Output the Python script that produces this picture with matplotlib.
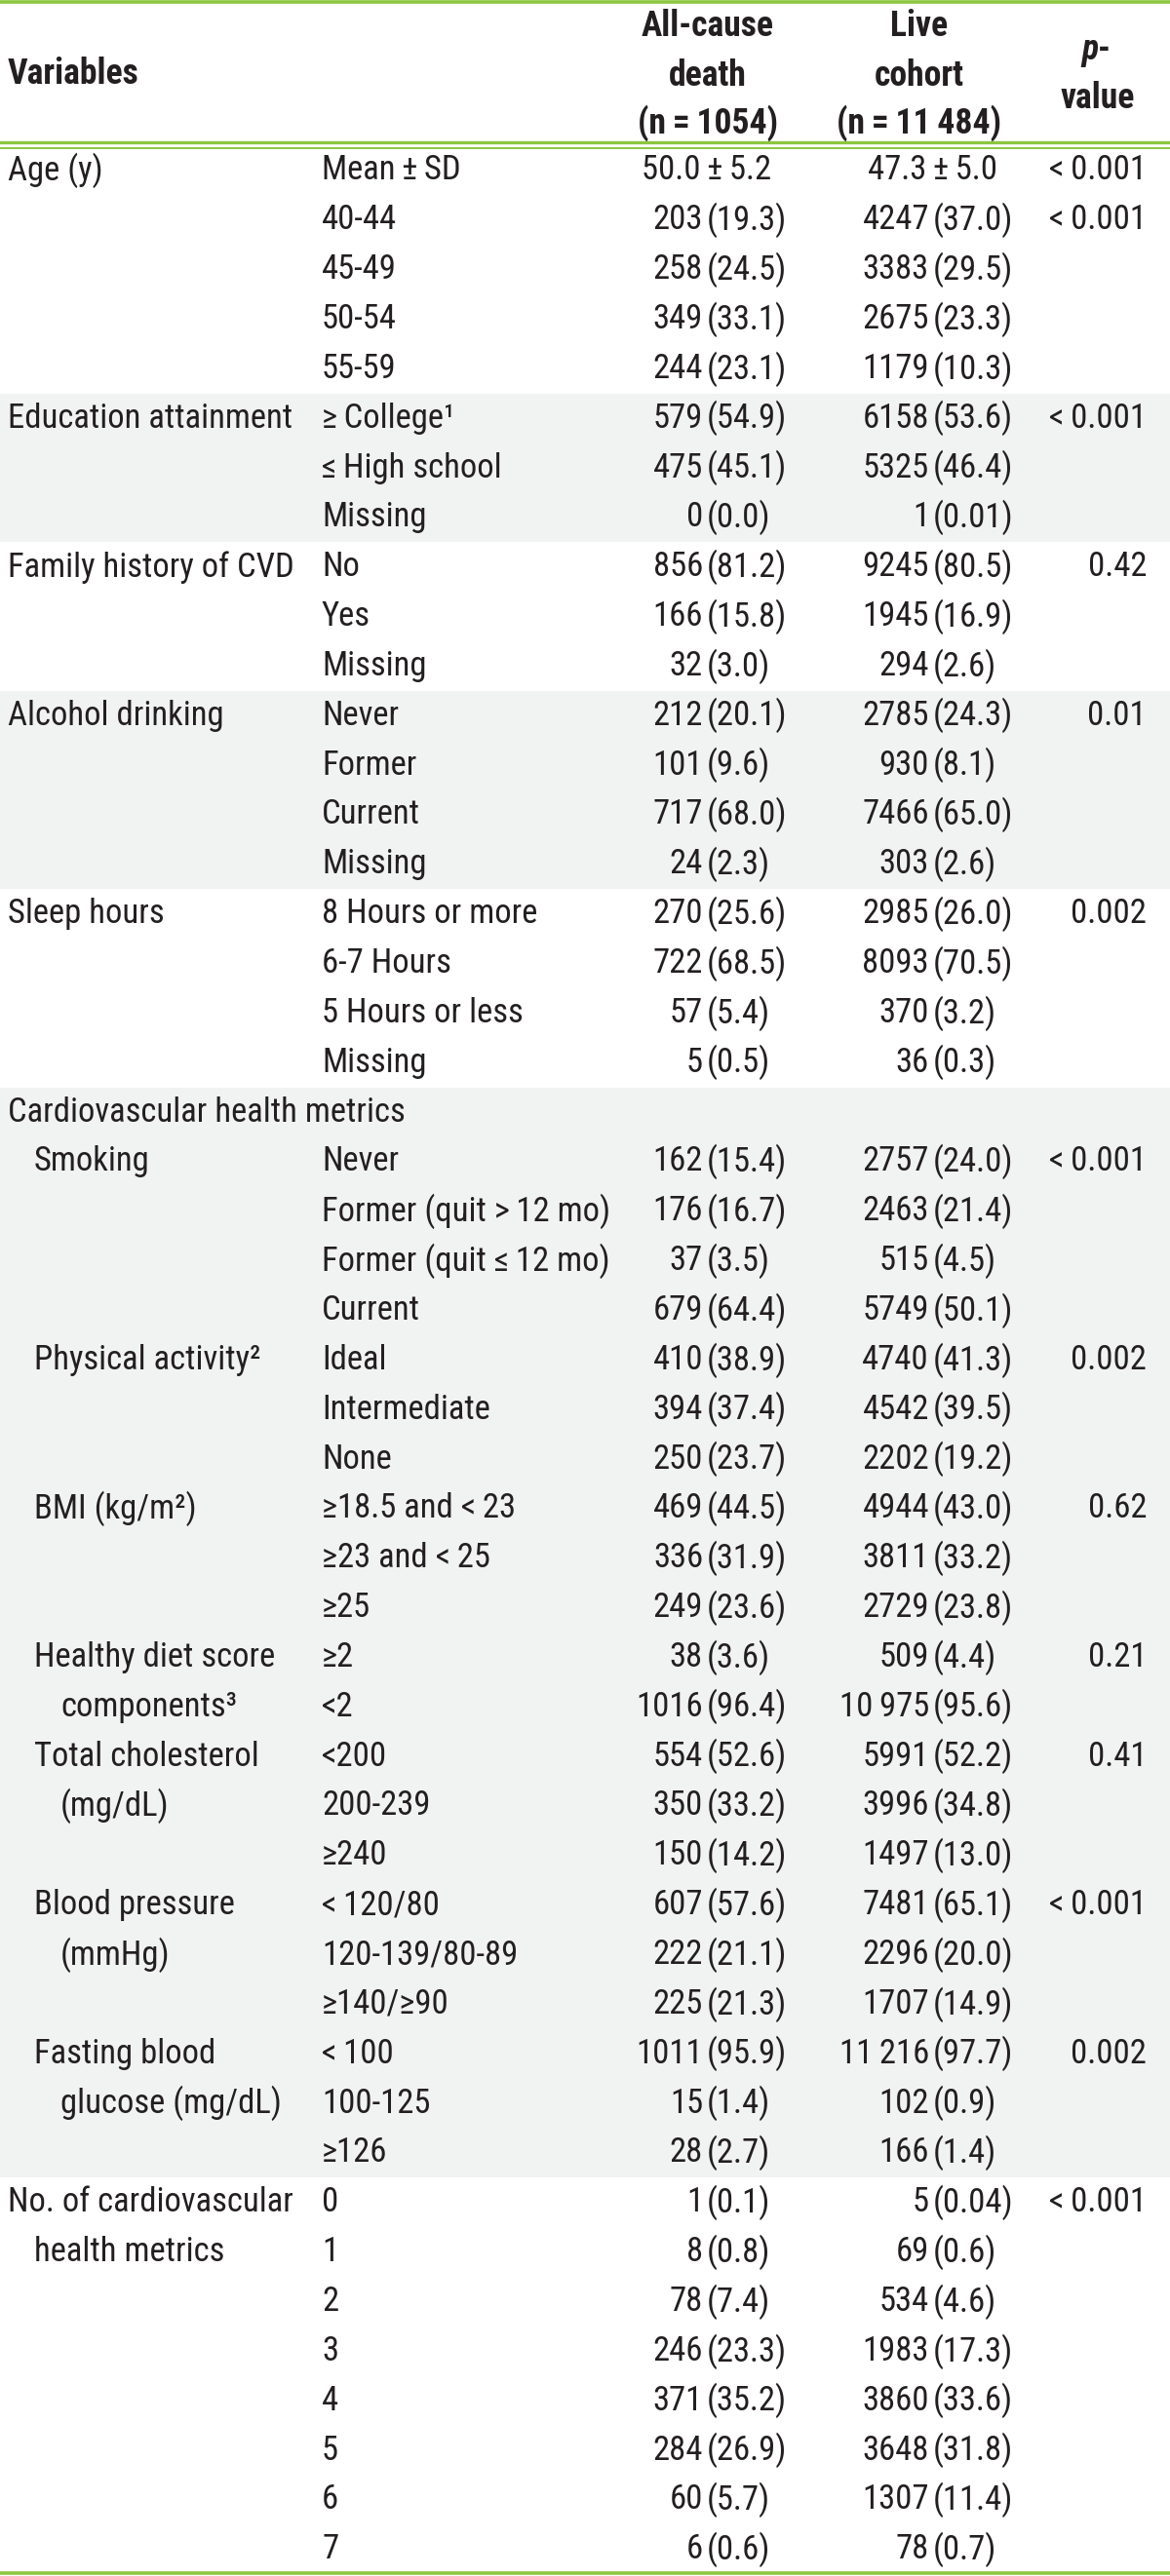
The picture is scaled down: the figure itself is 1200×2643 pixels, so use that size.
import os
import matplotlib.pyplot as plt
from matplotlib import font_manager as fm

T = '\u2009'  # thin space

# ---- table data ----
var_labels = ["Age (y)", "", "", "", "",
              "Education attainment", "", "",
              "Family history of CVD", "", "",
              "Alcohol drinking", "", "", "",
              "Sleep hours", "", "", "",
              "Cardiovascular health metrics",
              "Smoking", "", "", "",
              "Physical activity²", "", "",
              "BMI (kg/m²)", "", "",
              "Healthy diet score", "components³",
              "Total cholesterol", "(mg/dL)", "",
              "Blood pressure", "(mmHg)", "",
              "Fasting blood", "glucose (mg/dL)", "",
              "No. of cardiovascular", "health metrics", "", "", "", "", "", ""]
var_indent = [0] * 20 + [1, 0, 0, 0, 1, 0, 0, 1, 0, 0, 1, 2, 1, 2, 0,
                         1, 2, 0, 1, 2, 0, 0, 1, 0, 0, 0, 0, 0, 0]

categories = ["Mean" + T + "±" + T + "SD", "40-44", "45-49", "50-54", "55-59",
              "≥" + T + "College¹", "≤" + T + "High school", "Missing",
              "No", "Yes", "Missing",
              "Never", "Former", "Current", "Missing",
              "8 Hours or more", "6-7 Hours", "5 Hours or less", "Missing",
              "",
              "Never", "Former (quit >" + T + "12 mo)", "Former (quit ≤" + T + "12 mo)", "Current",
              "Ideal", "Intermediate", "None",
              "≥18.5 and <" + T + "23", "≥23 and <" + T + "25", "≥25",
              "≥2", "<2",
              "<200", "200-239", "≥240",
              "<" + T + "120/80", "120-139/80-89", "≥140/≥90",
              "<" + T + "100", "100-125", "≥126",
              "0", "1", "2", "3", "4", "5", "6", "7"]

death = ["50.0" + T + "±" + T + "5.2", "203 (19.3)", "258 (24.5)", "349 (33.1)", "244 (23.1)",
         "579 (54.9)", "475 (45.1)", "0 (0.0)",
         "856 (81.2)", "166 (15.8)", "32 (3.0)",
         "212 (20.1)", "101 (9.6)", "717 (68.0)", "24 (2.3)",
         "270 (25.6)", "722 (68.5)", "57 (5.4)", "5 (0.5)",
         "",
         "162 (15.4)", "176 (16.7)", "37 (3.5)", "679 (64.4)",
         "410 (38.9)", "394 (37.4)", "250 (23.7)",
         "469 (44.5)", "336 (31.9)", "249 (23.6)",
         "38 (3.6)", "1016 (96.4)",
         "554 (52.6)", "350 (33.2)", "150 (14.2)",
         "607 (57.6)", "222 (21.1)", "225 (21.3)",
         "1011 (95.9)", "15 (1.4)", "28 (2.7)",
         "1 (0.1)", "8 (0.8)", "78 (7.4)", "246 (23.3)", "371 (35.2)",
         "284 (26.9)", "60 (5.7)", "6 (0.6)"]

live = ["47.3" + T + "±" + T + "5.0", "4247 (37.0)", "3383 (29.5)", "2675 (23.3)", "1179 (10.3)",
        "6158 (53.6)", "5325 (46.4)", "1 (0.01)",
        "9245 (80.5)", "1945 (16.9)", "294 (2.6)",
        "2785 (24.3)", "930 (8.1)", "7466 (65.0)", "303 (2.6)",
        "2985 (26.0)", "8093 (70.5)", "370 (3.2)", "36 (0.3)",
        "",
        "2757 (24.0)", "2463 (21.4)", "515 (4.5)", "5749 (50.1)",
        "4740 (41.3)", "4542 (39.5)", "2202 (19.2)",
        "4944 (43.0)", "3811 (33.2)", "2729 (23.8)",
        "509 (4.4)", "10" + T + "975 (95.6)",
        "5991 (52.2)", "3996 (34.8)", "1497 (13.0)",
        "7481 (65.1)", "2296 (20.0)", "1707 (14.9)",
        "11" + T + "216 (97.7)", "102 (0.9)", "166 (1.4)",
        "5 (0.04)", "69 (0.6)", "534 (4.6)", "1983 (17.3)", "3860 (33.6)",
        "3648 (31.8)", "1307 (11.4)", "78 (0.7)"]

p_values = ["<" + T + "0.001", "<" + T + "0.001", "", "", "",
            "<" + T + "0.001", "", "",
            "0.42", "", "",
            "0.01", "", "", "",
            "0.002", "", "", "",
            "",
            "<" + T + "0.001", "", "", "",
            "0.002", "", "",
            "0.62", "", "",
            "0.21", "",
            "0.41", "", "",
            "<" + T + "0.001", "", "",
            "0.002", "", "",
            "<" + T + "0.001", "", "", "", "", "", "", ""]

shaded = [(5, 8), (11, 15), (19, 41)]   # row ranges with grey background


# ---- pick a narrow font if one is installed ----
def find_narrow():
    prefs = ['roboto', 'liberation', 'noto', 'dejavu', 'open', 'lato']
    found = []
    for f in fm.fontManager.ttflist:
        base = os.path.basename(f.fname).lower()
        if ('condensed' in base or 'narrow' in base) and 'semi' not in base \
                and f.style == 'normal' and f.weight in (400, 'normal', 'regular', 'book'):
            rank = next((k for k, p in enumerate(prefs) if p in base), len(prefs))
            found.append((rank, f))
    if not found:
        return None
    found.sort(key=lambda t: t[0])
    return found[0][1]

nf = find_narrow()
if nf is not None:
    FAM = [nf.name, 'DejaVu Sans']
    STRETCH = nf.stretch
else:
    FAM = ['Roboto', 'DejaVu Sans']
    STRETCH = 'normal'
plt.rcParams['font.family'] = FAM
plt.rcParams['font.stretch'] = STRETCH

# ---- layout ----
W, H = 1200, 2643
GREEN = '#8cc63f'
SHADE = '#f1f2f2'
TXT = '#231f20'

fig = plt.figure(figsize=(W / 100, H / 100), dpi=100)
ax = fig.add_axes([0, 0, 1, 1])
ax.set_xlim(0, W)
ax.set_ylim(H, 0)
ax.axis('off')

# size the font so a reference label has about the width it has in the original
r = fig.canvas.get_renderer()
probe = ax.text(0, 0, "Education attainment", fontsize=25)
w = probe.get_window_extent(r).width
probe.remove()
FS = min(29.0, 25 * 292.0 / w)

row_top = 149.5
row_h = 50.85
x_ind = [8, 35, 62]
x_cat = 330
x_death = 725
x_live = 957
x_p = 1176

def yc(i):
    return row_top + (i + 0.5) * row_h

for s, e in shaded:
    ax.axhspan(row_top + s * row_h, row_top + e * row_h, color=SHADE, lw=0, zorder=0)

ax.axhline(2, color=GREEN, lw=2.6)
ax.axhline(146, color=GREEN, lw=2.4)
ax.axhline(152, color=GREEN, lw=1.4)
ax.axhline(H - 3, color=GREEN, lw=2.6)

# header
hd = dict(fontsize=FS * 1.03, fontweight='bold', color=TXT, va='center')
ax.text(x_ind[0], 76, "Variables", ha='left', **hd)
for y, s in zip([27, 78, 126], ["All-cause", "death", "(n" + T + "=" + T + "1054)"]):
    ax.text(726, y, s, ha='center', **hd)
for y, s in zip([27, 78, 126], ["Live", "cohort", "(n" + T + "=" + T + "11" + T + "484)"]):
    ax.text(943, y, s, ha='center', **hd)
ax.text(1126, 51, "p", ha='right', style='italic', **hd)
ax.text(1126, 51, "-", ha='left', **hd)
ax.text(1126, 101, "value", ha='center', **hd)

# body
bd = dict(fontsize=FS, color=TXT, va='center')

def put_value(x, y, s):
    if '(' in s:
        num, pct = s.split(' (')
        ax.text(x - 4, y, num, ha='right', **bd)
        ax.text(x, y, '(' + pct, ha='left', **bd)
    elif s:
        ax.text(x, y, s, ha='center', **bd)

for i in range(len(categories)):
    y = yc(i)
    if var_labels[i]:
        ax.text(x_ind[var_indent[i]], y, var_labels[i], ha='left', **bd)
    if categories[i]:
        ax.text(x_cat, y, categories[i], ha='left', **bd)
    put_value(x_death, y, death[i])
    put_value(x_live, y, live[i])
    if p_values[i]:
        ax.text(x_p, y, p_values[i], ha='right', **bd)

fig.savefig('out.png', dpi=100)
